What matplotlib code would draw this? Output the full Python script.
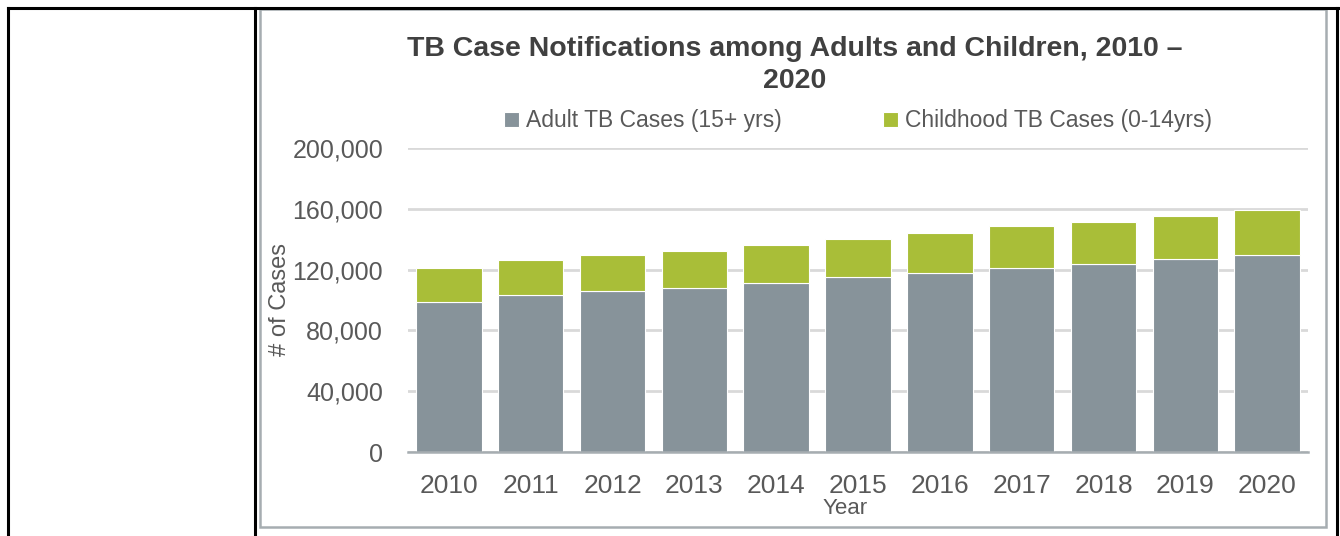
import matplotlib
matplotlib.use("Agg")
import matplotlib.pyplot as plt
import matplotlib.patches as mpatches
from matplotlib.lines import Line2D
import numpy as np

# ---- data ----
years = ["2010", "2011", "2012", "2013", "2014", "2015", "2016", "2017", "2018", "2019", "2020"]
adult_cases = [99000, 103000, 106000, 108000, 111500, 115000, 118000, 121000, 124000, 126800, 129800]
child_cases = [22000, 23000, 23700, 24400, 25000, 25000, 26000, 27700, 27400, 28500, 29200]

ADULT_COLOR = "#87939A"
CHILD_COLOR = "#A9BE38"
TEXT_COLOR = "#595959"

plt.rcParams['font.family'] = ['Liberation Sans', 'DejaVu Sans']

fig = plt.figure(figsize=(13.4, 5.36), dpi=100)

# table-like frame around the chart
W, H = 1340, 536
def fx(px):
    return px / W
def fy(py):
    return 1 - py / H

fig.add_artist(Line2D([fx(8), fx(1338)], [fy(8), fy(8)], color="black", lw=2.2, transform=fig.transFigure))
fig.add_artist(Line2D([fx(8), fx(8)], [fy(8), fy(536)], color="black", lw=2.2, transform=fig.transFigure))
fig.add_artist(Line2D([fx(255), fx(255)], [fy(8), fy(536)], color="black", lw=2.2, transform=fig.transFigure))
fig.add_artist(Line2D([fx(1337), fx(1337)], [fy(8), fy(536)], color="black", lw=2.2, transform=fig.transFigure))
fig.add_artist(mpatches.Rectangle((fx(260), fy(527)), fx(1326) - fx(260), fy(9) - fy(527),
                                  fill=False, edgecolor="#A6ADB1", lw=1.8, transform=fig.transFigure))

ax = fig.add_axes([fx(408), fy(452), fx(1308) - fx(408), fy(148) - fy(452)])

x = np.arange(len(years))
ax.bar(x, adult_cases, width=0.8, color=ADULT_COLOR, edgecolor="white", linewidth=0.8,
       label="Adult TB Cases (15+ yrs)", zorder=3)
ax.bar(x, child_cases, width=0.8, bottom=adult_cases, color=CHILD_COLOR, edgecolor="white",
       linewidth=0.8, label="Childhood TB Cases (0-14yrs)", zorder=3)

ax.set_xlim(-0.5, len(years) - 0.5)
ax.set_ylim(0, 200000)
ax.set_yticks(range(0, 200001, 40000))
ax.set_yticklabels([f"{v:,}" for v in range(0, 200001, 40000)])
ax.set_xticks(x)
ax.set_xticklabels(years)

ax.grid(axis="y", color="#D9D9D9", lw=2, zorder=0)
for s in ["top", "right", "left"]:
    ax.spines[s].set_visible(False)
ax.spines["bottom"].set_color("#A6ADB1")
ax.spines["bottom"].set_linewidth(1.8)
ax.spines["bottom"].set_zorder(4)

ax.tick_params(axis="y", length=0, pad=18, labelsize=18, labelcolor=TEXT_COLOR)
ax.tick_params(axis="x", length=0, pad=16, labelsize=19, labelcolor=TEXT_COLOR)

fig.text(fx(280), fy(300), "# of Cases", rotation=90, ha="center", va="center",
         fontsize=17, color=TEXT_COLOR)
fig.text(fx(845), fy(508), "Year", ha="center", va="center", fontsize=16, color=TEXT_COLOR)

fig.text(fx(795), fy(65), "TB Case Notifications among Adults and Children, 2010 –\n2020",
         ha="center", va="center", fontsize=20.5, fontweight="bold", color="#404040",
         linespacing=1.3)

ax.legend(loc="center", bbox_to_anchor=(fx(858), fy(121)), bbox_transform=fig.transFigure,
          ncol=2, frameon=False, fontsize=16.5, labelcolor=TEXT_COLOR,
          handlelength=0.65, handleheight=0.65, handletextpad=0.3, columnspacing=4.4,
          borderpad=0, borderaxespad=0)

fig.savefig("out.png", dpi=100)
